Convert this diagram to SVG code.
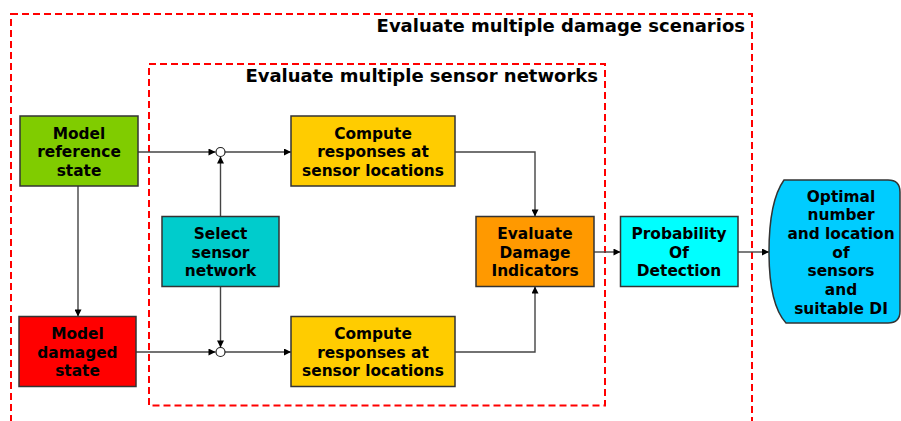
<svg xmlns="http://www.w3.org/2000/svg" width="901" height="421" viewBox="0 0 901 421">
<style>
.box{stroke:#333;stroke-width:1.5}
.t{font-family:"DejaVu Sans",Verdana,sans-serif;font-weight:bold;font-size:15.4px;fill:#000;text-anchor:middle}
.title{font-family:"DejaVu Sans",Verdana,sans-serif;font-weight:bold;font-size:18px;fill:#000;text-anchor:end}
.dash{fill:none;stroke:#ff0000;stroke-width:2;stroke-dasharray:7,4}
.c{fill:none;stroke:#444;stroke-width:1.4}
.j{fill:#fff;stroke:#222;stroke-width:1.2}
</style>
<defs>
<marker id="ah" viewBox="0 0 10 10" refX="10" refY="5" markerWidth="8" markerHeight="7" markerUnits="userSpaceOnUse" orient="auto">
<path d="M0,0 L10,5 L0,10 Z" fill="#000"/>
</marker>
</defs>
<rect width="901" height="421" fill="#fff"/>
<g id="scenarios">
<rect class="dash" x="11" y="14" width="741" height="420"/>
<text class="title" x="745" y="31.5">Evaluate multiple damage scenarios</text>
</g>
<g id="networks">
<rect class="dash" x="149" y="64" width="456" height="341.5"/>
<text class="title" x="598" y="82">Evaluate multiple sensor networks</text>
</g>
<g id="connectors">
<path class="c" d="M138,152 H215.5" marker-end="url(#ah)"/>
<path class="c" d="M225,152 H291" marker-end="url(#ah)"/>
<path class="c" d="M220.5,216.5 V156.5" marker-end="url(#ah)"/>
<path class="c" d="M78,186 V316.5" marker-end="url(#ah)"/>
<path class="c" d="M136,352 H215.5" marker-end="url(#ah)"/>
<path class="c" d="M225,352 H291" marker-end="url(#ah)"/>
<path class="c" d="M220.5,286.5 V347.5" marker-end="url(#ah)"/>
<path class="c" d="M455,152 H535 V216.5" marker-end="url(#ah)"/>
<path class="c" d="M455,352 H535 V286.5" marker-end="url(#ah)"/>
<path class="c" d="M594,252 H620.5" marker-end="url(#ah)"/>
<path class="c" d="M738,252 H769" marker-end="url(#ah)"/>
<circle class="j" cx="220.5" cy="152" r="4.5"/>
<circle class="j" cx="220.5" cy="352" r="4.5"/>
</g>
<g id="model-reference">
<rect class="box" x="20" y="116" width="118" height="70" fill="#80cc00"/>
<text class="t" x="79" y="138.5">Model</text>
<text class="t" x="79" y="157.2">reference</text>
<text class="t" x="79" y="175.9">state</text>
</g>
<g id="model-damaged">
<rect class="box" x="19" y="316.5" width="117" height="70" fill="#ff0000"/>
<text class="t" x="77.5" y="339">Model</text>
<text class="t" x="77.5" y="357.7">damaged</text>
<text class="t" x="77.5" y="376.4">state</text>
</g>
<g id="select-sensor">
<rect class="box" x="162" y="216.5" width="117" height="70" fill="#00cccc"/>
<text class="t" x="220.5" y="239">Select</text>
<text class="t" x="220.5" y="257.7">sensor</text>
<text class="t" x="220.5" y="276.4">network</text>
</g>
<g id="compute-top">
<rect class="box" x="291" y="116" width="164" height="70" fill="#ffcc00"/>
<text class="t" x="373" y="138.5">Compute</text>
<text class="t" x="373" y="157.2">responses at</text>
<text class="t" x="373" y="175.9">sensor locations</text>
</g>
<g id="compute-bottom">
<rect class="box" x="291" y="316.5" width="164" height="70" fill="#ffcc00"/>
<text class="t" x="373" y="339">Compute</text>
<text class="t" x="373" y="357.7">responses at</text>
<text class="t" x="373" y="376.4">sensor locations</text>
</g>
<g id="evaluate-di">
<rect class="box" x="476" y="216.5" width="118" height="70" fill="#ff9900"/>
<text class="t" x="535" y="239">Evaluate</text>
<text class="t" x="535" y="257.7">Damage</text>
<text class="t" x="535" y="276.4">Indicators</text>
</g>
<g id="pod">
<rect class="box" x="620.5" y="216.5" width="117.5" height="70" fill="#00ffff"/>
<text class="t" x="679" y="239">Probability</text>
<text class="t" x="679" y="257.7">Of</text>
<text class="t" x="679" y="276.4">Detection</text>
</g>
<g id="optimal">
<path class="box" fill="#00ccff" d="M784,180 H888 Q900,180 900,192 V311 Q900,323 888,323 H786 C774,310 769,285 769,252 C769,218 774,194 784,180 Z"/>
<text class="t" x="841" y="201.6">Optimal</text>
<text class="t" x="841" y="220.3">number</text>
<text class="t" x="841" y="239">and location</text>
<text class="t" x="841" y="257.7">of</text>
<text class="t" x="841" y="276.4">sensors</text>
<text class="t" x="841" y="295.1">and</text>
<text class="t" x="841" y="313.8">suitable DI</text>
</g>
</svg>
